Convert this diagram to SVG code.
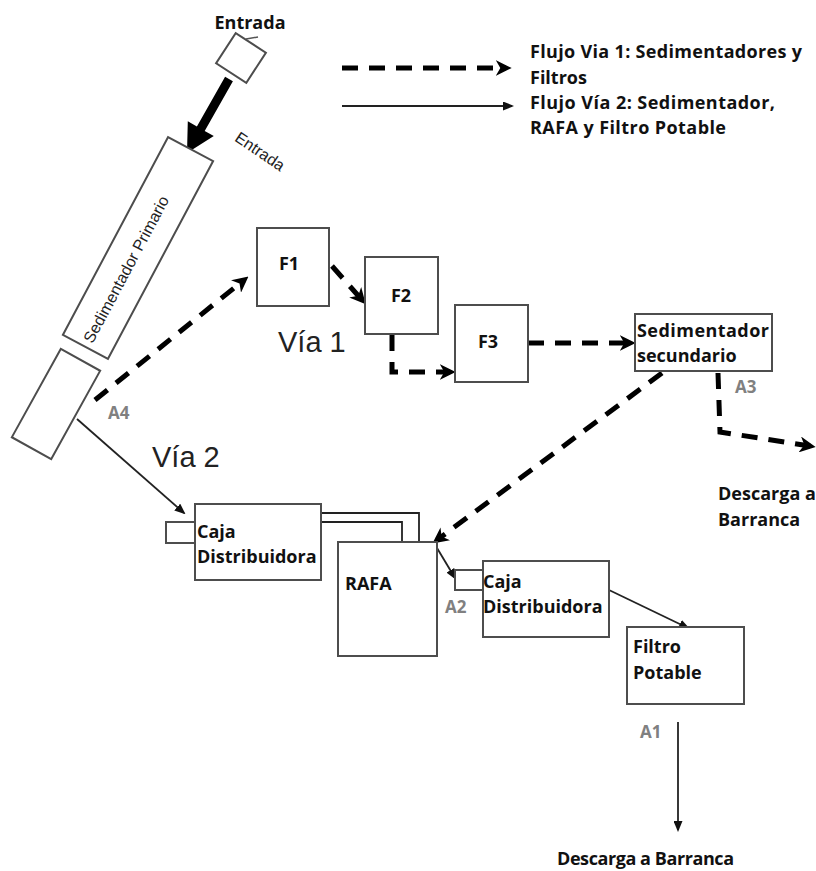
<svg xmlns="http://www.w3.org/2000/svg" width="816" height="871" viewBox="0 0 816 871">
<style>
.box{fill:#fff;stroke:#4d4d4d;stroke-width:2}
.t{font-family:"Open Sans","Noto Sans",sans-serif;font-weight:700;font-size:18px;fill:#111}
.a{font-family:"Open Sans","Noto Sans",sans-serif;font-weight:700;font-size:17px;fill:#808080}
.v{font-family:"Liberation Sans",Arial,sans-serif;font-size:29px;fill:#222}
.r{font-family:"Liberation Sans",Arial,sans-serif;font-size:16px;fill:#222}
.d{fill:none;stroke:#000;stroke-width:5;stroke-dasharray:16 11}
.s{fill:none;stroke:#222;stroke-width:1.8}
</style>
<defs>
<marker id="dh" markerUnits="userSpaceOnUse" markerWidth="16" markerHeight="16" refX="9" refY="7" orient="auto" viewBox="0 0 14 14">
<path d="M0,0 L14,7 L0,14 L4,7 z" fill="#000"/>
</marker>
<marker id="sh" markerUnits="userSpaceOnUse" markerWidth="11" markerHeight="9" refX="9" refY="4.5" orient="auto" viewBox="0 0 11 9">
<path d="M0,0 L11,4.5 L0,9 z" fill="#111"/>
</marker>
</defs>

<!-- legend -->
<g id="legend">
<text class="t" x="530" y="58" textLength="272">Flujo Via 1: Sedimentadores y</text>
<text class="t" x="530" y="84">Filtros</text>
<text class="t" x="530" y="109" textLength="245">Flujo Vía 2: Sedimentador,</text>
<text class="t" x="530" y="134" textLength="196">RAFA y Filtro Potable</text>
</g>

<!-- connectors -->
<g id="connectors">
<path class="d" d="M342,68 H506" marker-end="url(#dh)"/>
<path class="d" d="M95,400 L244,280" marker-end="url(#dh)"/>
<path class="d" d="M332,266 L362,300" marker-end="url(#dh)"/>
<path class="d" d="M392,335 V372 H450" marker-end="url(#dh)"/>
<path class="d" d="M528,343 H630" marker-end="url(#dh)"/>
<path class="d" d="M662,373 L437,540" marker-end="url(#dh)"/>
<path class="d" d="M718,373 L720,432 L810,446" marker-end="url(#dh)"/>
<path class="s" d="M342,106 H512" marker-end="url(#sh)"/>
<path class="s" d="M77,419 L184,513" marker-end="url(#sh)"/>
<path class="s" d="M321,513 H419 V560" marker-end="url(#sh)"/>
<path class="s" d="M321,522 H402 V628" marker-end="url(#sh)"/>
<path class="s" d="M437,548 L455,578" marker-end="url(#sh)"/>
<path class="s" d="M609,590 L688,628" marker-end="url(#sh)"/>
<path class="s" d="M678,722 V830" marker-end="url(#sh)"/>
<polygon points="225.1,76.8 232.9,81.2 204.7,130.9 213.8,136.1 187,153 187.8,121.3 196.9,126.4" fill="#000"/>
</g>

<g id="entrada">
<text class="t" x="250" y="29" text-anchor="middle">Entrada</text>
<rect class="box" x="-18" y="-18" width="36" height="36" transform="translate(241,58) rotate(33)"/>
<line x1="246" y1="39" x2="258" y2="37" stroke="#555" stroke-width="1.5"/>
<text class="r" x="0" y="0" font-size="18" text-anchor="middle" transform="translate(257,156) rotate(34)">Entrada</text>
</g>

<g id="sed_primario">
<rect class="box" x="-25.5" y="-112" width="51" height="224" transform="translate(138,248) rotate(28)"/>
<text class="r" x="0" y="0" font-size="15.5" text-anchor="middle" transform="translate(131,272) rotate(-62)">Sedimentador Primario</text>
</g>

<g id="a4_box">
<rect class="box" x="-22.5" y="-50.5" width="45" height="101" transform="translate(56,404) rotate(29)"/>
<text class="a" x="108" y="419">A4</text>
</g>

<text class="v" x="278" y="352">Vía 1</text>
<text class="v" x="152" y="467" font-size="31">Vía 2</text>

<g id="f1">
<rect class="box" x="257" y="228" width="72" height="78"/>
<text class="t" x="289" y="270" text-anchor="middle" font-size="17">F1</text>
</g>
<g id="f2">
<rect class="box" x="365" y="257" width="73" height="77"/>
<text class="t" x="401" y="302" text-anchor="middle" font-size="17">F2</text>
</g>
<g id="f3">
<rect class="box" x="455" y="305" width="73" height="77"/>
<text class="t" x="488" y="348" text-anchor="middle" font-size="17">F3</text>
</g>

<g id="sed_secundario">
<rect class="box" x="635" y="314" width="137" height="57"/>
<text class="t" x="637" y="337" textLength="132">Sedimentador</text>
<text class="t" x="637" y="362">secundario</text>
<text class="a" x="735" y="393">A3</text>
</g>

<g id="descarga1">
<text class="t" x="718" y="500">Descarga a</text>
<text class="t" x="718" y="526">Barranca</text>
</g>

<g id="caja1">
<rect class="box" x="166" y="522" width="29" height="21"/>
<rect class="box" x="195" y="504" width="126" height="76"/>
<text class="t" x="197" y="538">Caja</text>
<text class="t" x="197" y="563">Distribuidora</text>
</g>

<g id="rafa">
<rect class="box" x="338" y="542" width="99" height="114"/>
<text class="t" x="345" y="590">RAFA</text>
</g>

<g id="caja2">
<rect class="box" x="455" y="570" width="28" height="20"/>
<rect class="box" x="483" y="561" width="126" height="76"/>
<text class="t" x="483" y="588">Caja</text>
<text class="t" x="483" y="613">Distribuidora</text>
<text class="a" x="445" y="613">A2</text>
</g>

<g id="filtro">
<rect class="box" x="627" y="627" width="117" height="77"/>
<text class="t" x="633" y="653">Filtro</text>
<text class="t" x="633" y="679">Potable</text>
<text class="a" x="640" y="738">A1</text>
</g>

<g id="descarga2">
<text class="t" x="557" y="865" textLength="177">Descarga a Barranca</text>
</g>
</svg>
